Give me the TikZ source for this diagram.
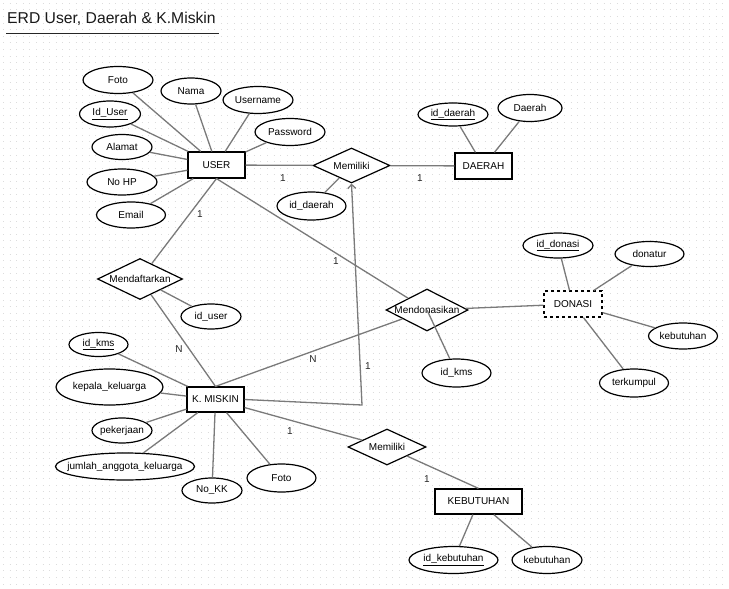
\documentclass[tikz,border=0pt]{standalone}
\usepackage{fontspec}
\setmainfont{Liberation Sans}
\usetikzlibrary{shapes.geometric,arrows.meta}
\definecolor{linegrey}{HTML}{7A7A7A}
\definecolor{dotgrey}{HTML}{DCDCDC}
\tikzset{
  base/.style={font=\fontsize{10}{12}\selectfont, inner sep=0pt, fill=white, line width=1.2pt},
  ent/.style={base, draw, rectangle, minimum width=#1, minimum height=26pt},
  attr/.style n args={2}{base, draw, ellipse, minimum width=#1, minimum height=#2},
  rel/.style n args={2}{base, draw, diamond, minimum width=#1, minimum height=#2},
  conn/.style={draw=linegrey, line width=1.3pt},
  card/.style={font=\fontsize{10}{12}\selectfont, text=black!85, inner sep=0pt},
}
\newcommand{\zt}[1]{\makebox[0pt]{#1}}
\begin{document}
\begin{tikzpicture}[x=1pt,y=-1pt]
\useasboundingbox (0,0) rectangle (729,589);
\fill[white] (0,0) rectangle (729,589);
% dotted grid
\foreach \r in {0,...,89} {
  \draw[dotgrey, line width=1pt, dash pattern=on 1pt off 5.6pt] (3,3.3+6.6*\r) -- (729,3.3+6.6*\r);
}
% title
\node[anchor=base west, inner sep=0pt, font=\fontsize{15.7}{18}\selectfont, text=black!90] (title) at (7,23.5) {ERD User, Daerah \& K.Miskin};
\coordinate (ulA) at (6,33.5);
\coordinate (ulB) at (219,33.5);
\draw[line width=1.6pt, black!85] (ulA) -- (ulB);

% entities
\node[ent=57pt] (user) at (216.5,165) {USER};
\node[ent=57pt] (daerah) at (483.5,166) {DAERAH};
\node[ent=57pt, minimum height=25pt] (kmiskin) at (215.5,399.5) {K. MISKIN};
\node[ent=58pt, dashed] (donasi) at (573,304) {DONASI};
\node[ent=87pt, minimum height=25pt] (kebutuhan) at (478.5,501.5) {KEBUTUHAN};

% relationships
\node[rel={77pt}{35pt}] (mem1) at (351.5,165.5) {\zt{Memiliki}};
\node[rel={85pt}{41pt}] (mend) at (140,279) {\zt{Mendaftarkan}};
\node[rel={82pt}{42pt}] (mdon) at (427,310) {\zt{Mendonasikan}};
\node[rel={78pt}{36pt}] (mem2) at (387,447) {\zt{Memiliki}};

% USER attributes
\node[attr={70pt}{27pt}] (foto1) at (118,80) {\zt{Foto}};
\node[attr={60pt}{26pt}] (nama) at (191,91) {\zt{Nama}};
\node[attr={70pt}{27pt}] (username) at (258,100) {\zt{Username}};
\node[attr={61pt}{26pt}] (iduser) at (110,114) {\zt{\underline{Id\_User}}};
\node[attr={70pt}{27pt}] (password) at (290,132) {\zt{Password}};
\node[attr={60pt}{25pt}] (alamat) at (122,147) {\zt{Alamat}};
\node[attr={70pt}{26pt}] (nohp) at (122,182) {\zt{No HP}};
\node[attr={69pt}{26pt}] (email) at (131,215) {\zt{Email}};

% DAERAH attributes
\node[attr={70pt}{23pt}] (iddaerah) at (453,114.5) {\zt{\underline{id\_daerah}}};
\node[attr={64pt}{27pt}] (daerahA) at (530,108) {\zt{Daerah}};
\node[attr={69pt}{28pt}] (iddaerahB) at (311.5,206) {\zt{id\_daerah}};

% Mendaftarkan attribute
\node[attr={60pt}{25pt}] (iduserB) at (211,316.5) {\zt{id\_user}};

% K. MISKIN attributes
\node[attr={59pt}{24pt}] (idkms) at (98.5,344.5) {\zt{\underline{id\_kms}}};
\node[attr={107pt}{36pt}] (kepala) at (109.5,387) {\zt{kepala\_keluarga}};
\node[attr={60pt}{25pt}] (pekerjaan) at (122,430.5) {\zt{pekerjaan}};
\node[attr={139pt}{27pt}] (jumlah) at (125,466.5) {\zt{jumlah\_anggota\_keluarga}};
\node[attr={60pt}{25pt}] (nokk) at (212,490.5) {\zt{No\_KK}};
\node[attr={69pt}{28pt}] (foto2) at (281.5,478) {\zt{Foto}};

% Mendonasikan attribute
\node[attr={69pt}{28pt}] (idkmsB) at (456.5,373) {\zt{id\_kms}};

% DONASI attributes
\node[attr={70pt}{25pt}] (iddonasi) at (558,245.5) {\zt{\underline{id\_donasi}}};
\node[attr={69pt}{25pt}] (donatur) at (649.5,254) {\zt{donatur}};
\node[attr={69pt}{26pt}] (kebA) at (683,336) {\zt{kebutuhan}};
\node[attr={69pt}{28pt}] (terkumpul) at (634,383) {\zt{terkumpul}};

% KEBUTUHAN attributes
\node[attr={89pt}{27pt}] (idkeb) at (453.5,560) {\zt{\underline{id\_kebutuhan}}};
\node[attr={70pt}{27pt}] (kebB) at (547,560) {\zt{kebutuhan}};

% connectors
\path[conn]
  (foto1) -- (user)
  (nama) -- (user)
  (username) -- (user)
  (iduser) -- (user)
  (password) -- (user)
  (alamat) -- (user)
  (nohp) -- (user)
  (email) -- (user)
  (user) -- (mem1)
  (mem1) -- (daerah)
  (iddaerah) -- (daerah)
  (daerahA) -- (daerah)
  (iddaerahB) -- (mem1)
  (user.south) -- (mend)
  (mend) -- (kmiskin.north)
  (mend) -- (iduserB)
  (user.south) -- (mdon)
  (kmiskin.north) -- (mdon)
  (mdon) -- (donasi)
  (iddonasi) -- (donasi)
  (donatur) -- (donasi)
  (kebA) -- (donasi)
  (terkumpul) -- (donasi)
  (idkms) -- (kmiskin)
  (kepala) -- (kmiskin)
  (pekerjaan) -- (kmiskin)
  (jumlah) -- (kmiskin)
  (nokk) -- (kmiskin)
  (foto2) -- (kmiskin)
  (kmiskin) -- (mem2)
  (mem2) -- (kebutuhan.north)
  (idkeb) -- (kebutuhan)
  (kebB) -- (kebutuhan);

% connector from K. MISKIN to Memiliki with arrow
\coordinate (bend) at (362,405);
\draw[conn, -{Straight Barb[length=4pt,width=8pt]}] (kmiskin.east) -- (bend) -- (mem1.south);

% id_kms to Mendonasikan (drawn over)
\draw[conn] (idkmsB) -- (mdon.center);

% cardinalities
\node[card] (c1) at (283,178) {1};
\node[card] (c2) at (420,178) {1};
\node[card] (c3) at (200,214) {1};
\node[card] (c4) at (179,349) {N};
\node[card] (c5) at (313,359) {N};
\node[card] (c6) at (336,261) {1};
\node[card] (c7) at (368,366) {1};
\node[card] (c8) at (290,431) {1};
\node[card] (c9) at (427,479) {1};
\end{tikzpicture}
\end{document}
